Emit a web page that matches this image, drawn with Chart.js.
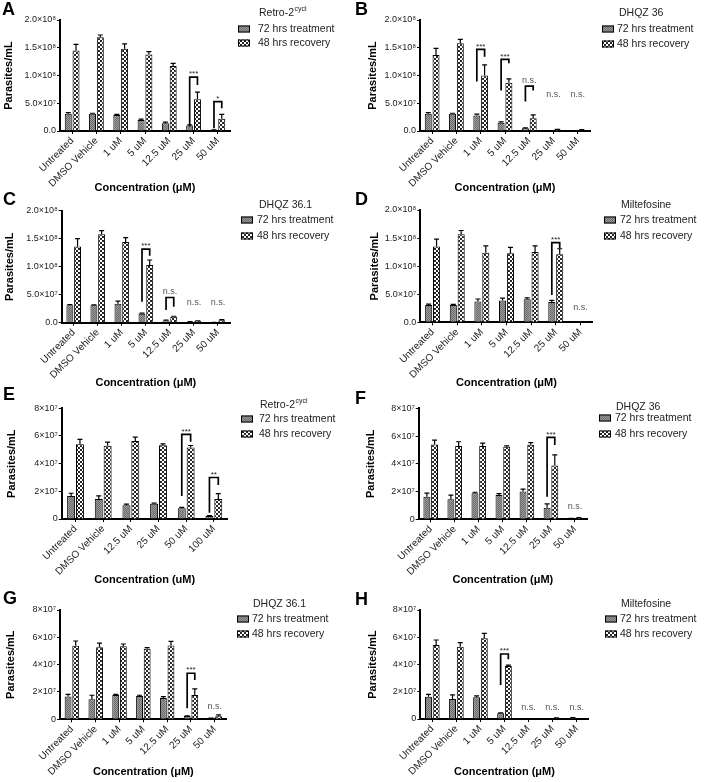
<!DOCTYPE html>
<html>
<head>
<meta charset="utf-8">
<script src="https://cdn.jsdelivr.net/npm/chart.js@4.4.1/dist/chart.umd.min.js"></script>
<style>
  body { margin: 0; background: #fff; }
  #fig { position: relative; width: 704px; height: 782px; overflow: hidden; }
  #fig canvas { position: absolute; }
</style>
</head>
<body>
<div id="fig"></div>
<script>
const FONT = '"Liberation Sans", Arial, Helvetica, sans-serif';

// categories
const catsMain = ['Untreated', 'DMSO Vehicle', '1 uM', '5 uM', '12.5 uM', '25 uM', '50 uM'];
const catsRetroE = ['Untreated', 'DMSO Vehicle', '12.5 uM', '25 uM', '50 uM', '100 uM'];

// y tick labels
const yTicksHigh = ['0.0', '5.0×10⁷', '1.0×10⁸', '1.5×10⁸', '2.0×10⁸'];
const yTicksLow = ['0', '2×10⁷', '4×10⁷', '6×10⁷', '8×10⁷'];

const seriesNames = ['72 hrs treatment', '48 hrs recovery'];

// values in units of 10^7 parasites/mL (mean, + error)
const treatA = [3.1, 3.1, 2.9, 2.0, 1.4, 1.0, 0.15];
const treatErrA = [0.2, 0.1, 0.1, 0.15, 0.2, 0.1, 0.05];
const recA = [14.5, 16.9, 14.8, 13.8, 11.7, 5.7, 2.2];
const recErrA = [1.1, 0.4, 0.9, 0.5, 0.5, 1.3, 0.8];
const sigA = [
  { cat: 5, text: '***', top: 9.7, left: 0.8, right: 8.3 },
  { cat: 6, text: '*', top: 5.3, left: 0.5, right: 4.1 }
];

const treatB = [3.1, 3.1, 2.8, 1.5, 0.5, 0.05, 0.05];
const treatErrB = [0.2, 0.1, 0.25, 0.15, 0.08, 0, 0];
const recB = [13.7, 15.8, 10.0, 8.7, 2.3, 0.25, 0.2];
const recErrB = [1.2, 0.7, 1.9, 0.7, 0.6, 0.05, 0.05];
const sigB = [
  { cat: 2, text: '***', top: 14.7, left: 8.9, right: 13.4 },
  { cat: 3, text: '***', top: 12.9, left: 7.3, right: 12.2 },
  { cat: 4, text: 'n.s.', top: 8.1, left: 5.3, right: 7.3 },
  { cat: 5, text: 'n.s.', at: 6.6 },
  { cat: 6, text: 'n.s.', at: 6.6 }
];

const treatC = [3.1, 3.1, 3.4, 1.6, 0.4, 0.18, 0.05];
const treatErrC = [0.15, 0.1, 0.45, 0.1, 0.05, 0.03, 0.02];
const recC = [13.6, 15.8, 14.4, 10.3, 1.05, 0.3, 0.45];
const recErrC = [1.4, 0.65, 0.8, 0.9, 0.1, 0.05, 0.1];
const sigC = [
  { cat: 3, text: '***', top: 13.15, left: 3.75, right: 11.96 },
  { cat: 4, text: 'n.s.', top: 4.5, left: 2.26, right: 2.86 },
  { cat: 5, text: 'n.s.', at: 3.57 },
  { cat: 6, text: 'n.s.', at: 3.57 }
];

const treatD = [3.1, 3.1, 3.7, 3.9, 4.1, 3.6, 0.05];
const treatErrD = [0.15, 0.1, 0.45, 0.4, 0.25, 0.3, 0];
const recD = [13.5, 15.7, 12.4, 12.3, 12.5, 12.1, 0.05];
const recErrD = [1.3, 0.65, 1.2, 1.05, 1.1, 1.0, 0];
const sigD = [
  { cat: 5, text: '***', top: 14.2, left: 4.87, right: 13.2 },
  { cat: 6, text: 'n.s.', at: 2.67 }
];

const treatE = [1.66, 1.45, 1.0, 1.1, 0.77, 0.22];
const treatErrE = [0.2, 0.22, 0.07, 0.05, 0.07, 0.02];
const recE = [5.4, 5.3, 5.64, 5.33, 5.16, 1.45];
const recErrE = [0.36, 0.25, 0.27, 0.1, 0.15, 0.38];
const sigE = [
  { cat: 4, text: '***', top: 6.12, left: 1.66, right: 5.59 },
  { cat: 5, text: '**', top: 3.0, left: 0.46, right: 2.46 }
];

const treatF = [1.63, 1.44, 1.88, 1.75, 2.0, 0.84, 0.05];
const treatErrF = [0.25, 0.3, 0.07, 0.1, 0.17, 0.27, 0.01];
const recF = [5.4, 5.29, 5.29, 5.22, 5.38, 3.87, 0.1];
const recErrF = [0.3, 0.3, 0.2, 0.07, 0.15, 0.77, 0.02];
const sigF = [
  { cat: 5, text: '***', top: 5.9, left: 1.63, right: 5.36 },
  { cat: 6, text: 'n.s.', at: 0.91 }
];

const treatG = [1.66, 1.46, 1.78, 1.71, 1.56, 0.24, 0.07];
const treatErrG = [0.17, 0.3, 0.05, 0.05, 0.1, 0.02, 0.01];
const recG = [5.39, 5.27, 5.34, 5.17, 5.41, 1.78, 0.22];
const recErrG = [0.34, 0.3, 0.17, 0.07, 0.3, 0.44, 0.1];
const sigG = [
  { cat: 5, text: '***', top: 3.37, left: 0.8, right: 2.88 },
  { cat: 6, text: 'n.s.', at: 0.93 }
];

const treatH = [1.64, 1.47, 1.59, 0.42, 0.05, 0.05, 0.1];
const treatErrH = [0.17, 0.3, 0.1, 0.03, 0, 0, 0.01];
const recH = [5.43, 5.3, 5.92, 3.89, 0.05, 0.08, 0.03];
const recErrH = [0.37, 0.3, 0.37, 0.07, 0, 0.01, 0];
const sigH = [
  { cat: 3, text: '***', top: 4.77, left: 2.49, right: 4.38 },
  { cat: 4, text: 'n.s.', at: 0.86 },
  { cat: 5, text: 'n.s.', at: 0.86 },
  { cat: 6, text: 'n.s.', at: 0.86 }
];

// fill patterns for the two series
function makePattern(kind) {
  const tile = document.createElement('canvas');
  const g = tile.getContext('2d');
  if (kind === 'treat') {
    tile.width = 2; tile.height = 2;
    g.fillStyle = '#9a9a9a'; g.fillRect(0, 0, 2, 2);
    g.fillStyle = '#6c6c6c'; g.fillRect(0, 0, 1, 1); g.fillRect(1, 1, 1, 1);
  } else {
    tile.width = 4; tile.height = 4;
    g.fillStyle = '#ffffff'; g.fillRect(0, 0, 4, 4);
    g.fillStyle = '#262626'; g.fillRect(0, 0, 2, 2); g.fillRect(2, 2, 2, 2);
  }
  return document.createElement('canvas').getContext('2d').createPattern(tile, 'repeat');
}
const treatFill = makePattern('treat');
const recFill = makePattern('rec');

const CW = 352, CH = 200;
const TITLE_HALF = 6.6; // half line height of 11px axis titles

// panel layout (positions relative to each panel's top-left corner)
const panels = [
  { letter: 'A', x0: 0, y0: 0, cats: catsMain, treat: treatA, treatErr: treatErrA, rec: recA, recErr: recErrA, sig: sigA,
    yMax: 20, yStep: 5, yLabels: yTicksHigh, xTitle: 'Concentration (μM)', legTitle: 'Retro-2', legSup: 'cycl',
    area: { l: 60, r: 230, t: 20, b: 131 }, yTitleX: 9, xTitleY: 188,
    leg: { tx: 259, ty: 13, sx: 238, ix: 258, y1: 29, y2: 43 }, lx: 2, ly: 3 },
  { letter: 'B', x0: 352, y0: 0, cats: catsMain, treat: treatB, treatErr: treatErrB, rec: recB, recErr: recErrB, sig: sigB,
    yMax: 20, yStep: 5, yLabels: yTicksHigh, xTitle: 'Concentration (μM)', legTitle: 'DHQZ 36', legSup: '',
    area: { l: 68, r: 238, t: 20, b: 131 }, yTitleX: 21, xTitleY: 188,
    leg: { tx: 267, ty: 13, sx: 250, ix: 265, y1: 29, y2: 44 }, lx: 3, ly: 3 },
  { letter: 'C', x0: 0, y0: 190, cats: catsMain, treat: treatC, treatErr: treatErrC, rec: recC, recErr: recErrC, sig: sigC,
    yMax: 20, yStep: 5, yLabels: yTicksHigh, xTitle: 'Concentration (μM)', legTitle: 'DHQZ 36.1', legSup: '',
    area: { l: 61.7, r: 230, t: 20.7, b: 132.7 }, yTitleX: 10, xTitleY: 193,
    leg: { tx: 259, ty: 15, sx: 241, ix: 257, y1: 30, y2: 46 }, lx: 3, ly: 3 },
  { letter: 'D', x0: 352, y0: 190, cats: catsMain, treat: treatD, treatErr: treatErrD, rec: recD, recErr: recErrD, sig: sigD,
    yMax: 20, yStep: 5, yLabels: yTicksHigh, xTitle: 'Concentration (μM)', legTitle: 'Miltefosine', legSup: '',
    area: { l: 68.3, r: 240.7, t: 20, b: 132.3 }, yTitleX: 22.5, xTitleY: 193,
    leg: { tx: 269, ty: 15, sx: 252, ix: 268, y1: 30, y2: 46 }, lx: 3, ly: 3 },
  { letter: 'E', x0: 0, y0: 385, cats: catsRetroE, treat: treatE, treatErr: treatErrE, rec: recE, recErr: recErrE, sig: sigE,
    yMax: 8, yStep: 2, yLabels: yTicksLow, xTitle: 'Concentration (uM)', legTitle: 'Retro-2', legSup: 'cycl',
    area: { l: 61.7, r: 227.7, t: 23.3, b: 134 }, yTitleX: 11.5, xTitleY: 195,
    leg: { tx: 260, ty: 20, sx: 241, ix: 259, y1: 34, y2: 49 }, lx: 3, ly: 3 },
  { letter: 'F', x0: 352, y0: 385, cats: catsMain, treat: treatF, treatErr: treatErrF, rec: recF, recErr: recErrF, sig: sigF,
    yMax: 8, yStep: 2, yLabels: yTicksLow, xTitle: 'Concentration (μM)', legTitle: 'DHQZ 36', legSup: '',
    area: { l: 66.7, r: 235, t: 23.3, b: 134.3 }, yTitleX: 19, xTitleY: 195,
    leg: { tx: 264, ty: 22, sx: 247, ix: 263, y1: 33, y2: 49 }, lx: 3, ly: 7 },
  { letter: 'G', x0: 0, y0: 580, cats: catsMain, treat: treatG, treatErr: treatErrG, rec: recG, recErr: recErrG, sig: sigG,
    yMax: 8, yStep: 2, yLabels: yTicksLow, xTitle: 'Concentration (μM)', legTitle: 'DHQZ 36.1', legSup: '',
    area: { l: 60, r: 226.7, t: 30, b: 139.3 }, yTitleX: 10.5, xTitleY: 192,
    leg: { tx: 253, ty: 24, sx: 237, ix: 252, y1: 39, y2: 54 }, lx: 3, ly: 12 },
  { letter: 'H', x0: 352, y0: 580, cats: catsMain, treat: treatH, treatErr: treatErrH, rec: recH, recErr: recErrH, sig: sigH,
    yMax: 8, yStep: 2, yLabels: yTicksLow, xTitle: 'Concentration (μM)', legTitle: 'Miltefosine', legSup: '',
    area: { l: 68.3, r: 236.7, t: 30, b: 139 }, yTitleX: 21, xTitleY: 192,
    leg: { tx: 269, ty: 24, sx: 253, ix: 268, y1: 39, y2: 54 }, lx: 3, ly: 13 }
];

// error bars, significance brackets, legend and panel letter
function makeExtras(p) {
  return {
    id: 'extras' + p.letter,
    afterDatasetsDraw(chart) {
      const ctx = chart.ctx;
      const ys = chart.scales.y;
      const m0 = chart.getDatasetMeta(0), m1 = chart.getDatasetMeta(1);
      ctx.save();
      ctx.strokeStyle = '#000';
      ctx.lineWidth = 1.2;
      [[m0, p.treat, p.treatErr], [m1, p.rec, p.recErr]].forEach(([meta, vals, errs]) => {
        meta.data.forEach((bar, i) => {
          if (!errs[i]) return;
          const yb = ys.getPixelForValue(vals[i]);
          const yt = ys.getPixelForValue(vals[i] + errs[i]);
          ctx.beginPath();
          ctx.moveTo(bar.x, yb);
          ctx.lineTo(bar.x, yt);
          ctx.moveTo(bar.x - 2.5, yt);
          ctx.lineTo(bar.x + 2.5, yt);
          ctx.stroke();
        });
      });
      // brackets
      p.sig.forEach(s => {
        const isStar = s.text.indexOf('*') >= 0;
        ctx.fillStyle = isStar ? '#222' : '#555';
        ctx.font = (isStar ? '8px ' : '9px ') + FONT;
        ctx.textAlign = 'center';
        ctx.textBaseline = 'middle';
        if (s.at !== undefined) {
          ctx.fillText(s.text, chart.scales.x.getPixelForValue(s.cat), ys.getPixelForValue(s.at));
          return;
        }
        const xl = m0.data[s.cat].x, xr = m1.data[s.cat].x;
        const yt = ys.getPixelForValue(s.top);
        ctx.lineWidth = 1.7;
        ctx.beginPath();
        ctx.moveTo(xl, ys.getPixelForValue(s.left));
        ctx.lineTo(xl, yt);
        ctx.lineTo(xr, yt);
        ctx.lineTo(xr, ys.getPixelForValue(s.right));
        ctx.stroke();
        ctx.fillText(s.text, (xl + xr) / 2, yt - (isStar ? 3 : 6));
      });
      ctx.restore();
    },
    afterDraw(chart) {
      const ctx = chart.ctx;
      const L = p.leg;
      ctx.save();
      // panel letter
      ctx.fillStyle = '#000';
      ctx.font = 'bold 18px ' + FONT;
      ctx.textAlign = 'left';
      ctx.textBaseline = 'top';
      ctx.fillText(p.letter, p.lx, p.ly - 2);
      // legend title
      ctx.fillStyle = '#222';
      ctx.font = '10.5px ' + FONT;
      ctx.textBaseline = 'middle';
      ctx.fillText(p.legTitle, L.tx, L.ty);
      if (p.legSup) {
        const w = ctx.measureText(p.legTitle).width;
        ctx.font = '7px ' + FONT;
        ctx.fillText(p.legSup, L.tx + w + 0.5, L.ty - 4);
      }
      // legend items
      ctx.font = '10.5px ' + FONT;
      [[treatFill, L.y1, seriesNames[0]], [recFill, L.y2, seriesNames[1]]].forEach(([fill, yy, name]) => {
        ctx.fillStyle = fill;
        ctx.fillRect(L.sx, yy - 3.5, 12, 7);
        ctx.strokeStyle = '#000';
        ctx.lineWidth = 1;
        ctx.strokeRect(L.sx + 0.5, yy - 3.5 + 0.5, 11, 6);
        ctx.fillStyle = '#222';
        ctx.fillText(name, L.ix, yy);
      });
      ctx.restore();
    }
  };
}

const fig = document.getElementById('fig');

panels.forEach(p => {
  const cv = document.createElement('canvas');
  cv.width = CW; cv.height = CH;
  cv.style.left = p.x0 + 'px';
  cv.style.top = p.y0 + 'px';
  cv.style.width = CW + 'px';
  cv.style.height = CH + 'px';
  fig.appendChild(cv);

  const padL = Math.max(0, p.yTitleX - TITLE_HALF);
  const yW = p.area.l - padL;
  const xBottom = p.xTitleY + TITLE_HALF;
  const xH = xBottom - p.area.b;
  const padB = CH - xBottom;

  new Chart(cv.getContext('2d'), {
    type: 'bar',
    data: {
      labels: p.cats,
      datasets: [
        { label: seriesNames[0], data: p.treat, backgroundColor: treatFill, borderColor: '#000', borderWidth: 1 },
        { label: seriesNames[1], data: p.rec, backgroundColor: recFill, borderColor: '#000', borderWidth: 1 }
      ]
    },
    options: {
      responsive: false,
      animation: false,
      devicePixelRatio: 1,
      layout: { padding: { left: padL, right: CW - p.area.r, top: p.area.t, bottom: padB } },
      datasets: { bar: { categoryPercentage: 0.64, barPercentage: 0.9 } },
      plugins: { legend: { display: false }, tooltip: { enabled: false } },
      scales: {
        x: {
          offset: true,
          grid: { display: true, offset: false, drawOnChartArea: false, drawTicks: true, tickLength: 3, color: '#000', lineWidth: 1 },
          border: { display: true, color: '#000', width: 2 },
          ticks: { autoSkip: false, minRotation: 45, maxRotation: 45, padding: 1, color: '#222', font: { family: FONT, size: 10 } },
          title: { display: true, text: p.xTitle, color: '#000', padding: 0, font: { family: FONT, size: 11, weight: 'bold' } },
          afterFit: s => { s.height = xH; }
        },
        y: {
          min: 0,
          max: p.yMax,
          grid: { display: true, drawOnChartArea: false, drawTicks: true, tickLength: 3, color: '#000', lineWidth: 1 },
          border: { display: true, color: '#000', width: 2 },
          ticks: {
            stepSize: p.yStep,
            padding: 1,
            color: '#222',
            font: { family: FONT, size: 9 },
            callback: (v, i) => p.yLabels[i]
          },
          title: { display: true, text: 'Parasites/mL', color: '#000', padding: 0, font: { family: FONT, size: 11, weight: 'bold' } },
          afterFit: s => { s.width = yW; }
        }
      }
    },
    plugins: [makeExtras(p)]
  });
});
</script>
</body>
</html>
